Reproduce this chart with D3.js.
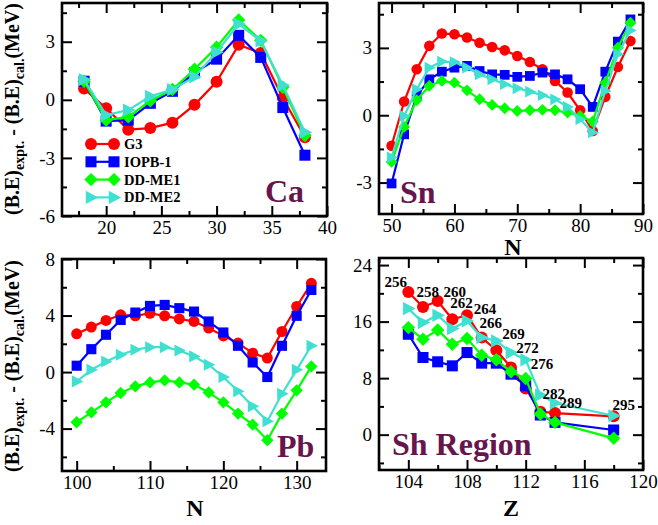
<!DOCTYPE html>
<html><head><meta charset="utf-8">
<script src="https://cdn.jsdelivr.net/npm/d3@7"></script>
<style>body{margin:0;background:#fff}svg{display:block}</style>
</head><body>
<script>
// Binding-energy differences (expt. - cal.) in MeV for four RMF parameter sets
const modelNames = ["G3", "IOPB-1", "DD-ME1", "DD-ME2"];

// Ca isotopes
const caN     = [18, 20, 22, 24, 26, 28, 30, 32, 34, 36, 38];
const caG3    = [0.58, -0.44, -1.54, -1.46, -1.18, -0.26, 0.93, 2.84, 2.42, 0.09, -1.93];
const caIOPB  = [0.96, -1.10, -1.05, -0.18, 0.44, 1.40, 2.10, 3.33, 2.19, -0.40, -2.86];
const caDDME1 = [0.96, -1.05, -0.88, -0.05, 0.53, 1.58, 2.72, 4.12, 3.07, 0.65, -1.84];
const caDDME2 = [1.05, -0.79, -0.53, 0.18, 0.53, 1.18, 2.46, 3.91, 3.04, 0.75, -1.67];

// Sn isotopes
const snN     = [50, 52, 54, 56, 58, 60, 62, 64, 66, 68, 70, 72, 74, 76, 78, 80, 82, 84, 86, 88];
const snG3    = [-1.36, 0.61, 2.05, 3.09, 3.64, 3.61, 3.46, 3.23, 3.04, 2.89, 2.64, 2.37, 2.05, 1.53, 1.01, 0.22, -0.70, 0.82, 2.15, 3.31];
const snIOPB  = [-3.04, -0.85, 0.86, 1.60, 1.94, 2.12, 2.20, 1.97, 1.82, 1.80, 1.71, 1.75, 1.90, 1.82, 1.60, 1.16, 0.37, 1.94, 3.28, 4.27];
const snDDME1 = [-2.08, -0.52, 0.67, 1.31, 1.53, 1.45, 1.11, 0.71, 0.46, 0.31, 0.19, 0.22, 0.24, 0.22, 0.12, -0.03, -0.28, 1.45, 3.01, 4.12];
const snDDME2 = [-1.88, -0.03, 1.16, 2.12, 2.39, 2.37, 2.12, 1.82, 1.60, 1.38, 1.20, 1.05, 0.89, 0.71, 0.37, -0.18, -0.77, 1.08, 2.72, 3.78];

// Pb isotopes
const pbN     = [100, 102, 104, 106, 108, 110, 112, 114, 116, 118, 120, 122, 124, 126, 128, 130, 132];
const pbG3    = [2.71, 3.18, 3.65, 4.05, 3.98, 4.16, 3.98, 3.76, 3.58, 3.11, 2.56, 2.05, 1.34, 0.99, 2.87, 4.64, 6.28];
const pbIOPB  = [0.45, 1.62, 2.64, 3.69, 4.21, 4.68, 4.75, 4.52, 4.28, 3.58, 2.80, 1.86, 0.68, -0.35, 1.86, 3.98, 5.81];
const pbDDME1 = [-3.55, -2.85, -2.14, -1.48, -1.01, -0.73, -0.59, -0.73, -0.89, -1.44, -2.14, -2.94, -3.72, -4.82, -2.94, -1.29, 0.40];
const pbDDME2 = [-0.66, 0.16, 0.75, 1.22, 1.58, 1.76, 1.76, 1.53, 1.11, 0.52, -0.35, -1.36, -2.42, -3.48, -1.53, 0.16, 1.86];

// Superheavy region (by proton number Z)
const shZ     = [104, 105, 106, 107, 108, 109, 110, 111, 112, 113, 114, 118];
const shG3    = [20.19, 18.07, 18.92, 16.33, 16.89, 13.74, 11.95, 9.51, 6.54, 3.25, 3.06, 2.59];
const shIOPB  = [14.21, 10.92, 10.31, 9.74, 11.62, 10.12, 10.12, 8.56, 6.92, 2.78, 1.74, 0.66];
const shDDME1 = [15.15, 13.51, 14.82, 12.80, 13.60, 11.25, 10.59, 8.89, 7.95, 2.92, 1.74, -0.52];
const shDDME2 = [17.84, 15.86, 16.89, 15.01, 16.09, 13.74, 13.27, 11.62, 10.59, 5.60, 4.47, 2.68];
// Mass numbers written beside the superheavy nuclei, and where they sit (Z, MeV)
const shMassLabels = ["256", "258", "260", "262", "264", "266", "269", "272", "276", "282", "289", "295"];
const shMassLabelZ = [103.15, 105.33, 107.16, 107.62, 109.22, 109.62, 111.17, 112.13, 113.12, 113.92, 115.07, 118.69];
const shMassLabelE = [21.6, 20.2, 20.2, 18.7, 17.75, 15.88, 14.22, 12.34, 9.99, 5.75, 4.58, 4.24];

const colors = ["#ff0000", "#0000ff", "#00ff00", "#40e0d0"];
const FONT = "Liberation Serif, Times New Roman, serif";

const W = 658, H = 525;
const svg = d3.select("body").append("svg").attr("width", W).attr("height", H)
  .attr("font-family", FONT);

// Marker shapes: circle, square, diamond, right-pointing triangle
function markerPath(kind, s) {
  if (kind === 0) return d3.symbol(d3.symbolCircle, Math.PI * s * s)();
  if (kind === 1) { const h = s * 0.92; return `M${-h},${-h}H${h}V${h}H${-h}Z`; }
  if (kind === 2) { const h = s * 1.12; return `M0,${-h}L${h},0L0,${h}L${-h},0Z`; }
  const h = s * 1.1; return `M${-h * 0.8},${-h}L${h * 1.1},0L${-h * 0.8},${h}Z`;
}

function minorValues(domain, step, majors) {
  const lo = Math.ceil(domain[0] / step - 1e-9) * step;
  return d3.range(lo, domain[1] + 1e-9, step)
    .filter(v => !majors.some(m => Math.abs(m - v) < 1e-9));
}

function drawPanel(p) {
  const g = svg.append("g");
  const x = d3.scaleLinear().domain(p.xDomain).range([p.left, p.right]);
  const y = d3.scaleLinear().domain(p.yDomain).range([p.bottom, p.top]);
  const fmt = d => String(d);
  const xMinor = minorValues(p.xDomain, p.xMinorStep, p.xTicks);
  const yMinor = minorValues(p.yDomain, p.yMinorStep, p.yTicks);

  const styleAxis = sel => {
    sel.attr("font-family", FONT).attr("font-size", 19);
    sel.select(".domain").remove();
    sel.selectAll(".tick line").attr("stroke", "#000").attr("stroke-width", 2);
    sel.selectAll(".tick text").attr("fill", "#000");
  };
  // major + minor ticks, pointing inward on all four sides
  g.append("g").attr("transform", `translate(0,${p.bottom})`)
    .call(d3.axisBottom(x).tickValues(p.xTicks).tickSize(-10).tickPadding(5).tickFormat(fmt)).call(styleAxis);
  g.append("g").attr("transform", `translate(0,${p.bottom})`)
    .call(d3.axisBottom(x).tickValues(xMinor).tickSize(-5).tickFormat("")).call(styleAxis);
  g.append("g").attr("transform", `translate(0,${p.top})`)
    .call(d3.axisTop(x).tickValues(p.xTicks).tickSize(-10).tickFormat("")).call(styleAxis);
  g.append("g").attr("transform", `translate(0,${p.top})`)
    .call(d3.axisTop(x).tickValues(xMinor).tickSize(-5).tickFormat("")).call(styleAxis);
  g.append("g").attr("transform", `translate(${p.left},0)`)
    .call(d3.axisLeft(y).tickValues(p.yTicks).tickSize(-10).tickPadding(7).tickFormat(fmt)).call(styleAxis);
  g.append("g").attr("transform", `translate(${p.left},0)`)
    .call(d3.axisLeft(y).tickValues(yMinor).tickSize(-5).tickFormat("")).call(styleAxis);
  g.append("g").attr("transform", `translate(${p.right},0)`)
    .call(d3.axisRight(y).tickValues(p.yTicks).tickSize(-10).tickFormat("")).call(styleAxis);
  g.append("g").attr("transform", `translate(${p.right},0)`)
    .call(d3.axisRight(y).tickValues(yMinor).tickSize(-5).tickFormat("")).call(styleAxis);

  g.append("rect").attr("x", p.left).attr("y", p.top)
    .attr("width", p.right - p.left).attr("height", p.bottom - p.top)
    .attr("fill", "none").attr("stroke", "#000").attr("stroke-width", 2.6);

  const line = d3.line().x(d => x(d[0])).y(d => y(d[1]));
  p.series.forEach((vals, k) => {
    const pts = p.xs.map((xv, i) => [xv, vals[i]]);
    const sg = g.append("g");
    sg.append("path").attr("d", line(pts)).attr("fill", "none")
      .attr("stroke", colors[k]).attr("stroke-width", 2.2);
    sg.selectAll("path.m").data(pts).join("path").attr("class", "m")
      .attr("transform", d => `translate(${x(d[0])},${y(d[1])})`)
      .attr("d", markerPath(k, p.marker)).attr("fill", colors[k]);
  });

  g.append("text").attr("x", p.tagX).attr("y", p.tagY).text(p.tag)
    .attr("font-size", 32).attr("font-weight", "bold").attr("fill", "#66164d");
  return {g, x, y};
}

// Ca
const ca = drawPanel({
  left: 62, right: 327, top: 3, bottom: 216,
  xDomain: [16, 40], yDomain: [-6, 5],
  xTicks: [20, 25, 30, 35, 40], xMinorStep: 2.5,
  yTicks: [-6, -3, 0, 3], yMinorStep: 1.5,
  xs: caN, series: [caG3, caIOPB, caDDME1, caDDME2], marker: 6,
  tag: "Ca", tagX: 265, tagY: 202
});
// legend
modelNames.forEach((name, k) => {
  const yy = 144 + k * 17.8;
  const lg = ca.g.append("g");
  lg.append("line").attr("x1", 89).attr("x2", 116).attr("y1", yy).attr("y2", yy)
    .attr("stroke", colors[k]).attr("stroke-width", 2.2);
  [91, 114].forEach(xx => lg.append("path").attr("transform", `translate(${xx},${yy})`)
    .attr("d", markerPath(k, 6)).attr("fill", colors[k]));
  lg.append("text").attr("x", 124).attr("y", yy + 5).text(name)
    .attr("font-size", 14.5).attr("font-weight", "bold").attr("fill", "#000");
});

// Sn
drawPanel({
  left: 379, right: 643, top: 3, bottom: 214,
  xDomain: [48, 90], yDomain: [-4.4, 5],
  xTicks: [50, 60, 70, 80, 90], xMinorStep: 5,
  yTicks: [-3, 0, 3], yMinorStep: 1.5,
  xs: snN, series: [snG3, snIOPB, snDDME1, snDDME2], marker: 5.3,
  tag: "Sn", tagX: 400, tagY: 203
});

// Pb
drawPanel({
  left: 62, right: 326, top: 259, bottom: 471,
  xDomain: [98, 134], yDomain: [-7, 8],
  xTicks: [100, 110, 120, 130], xMinorStep: 5,
  yTicks: [-4, 0, 4, 8], yMinorStep: 2,
  xs: pbN, series: [pbG3, pbIOPB, pbDDME1, pbDDME2], marker: 5.5,
  tag: "Pb", tagX: 277, tagY: 457
});

// Superheavy region
const sh = drawPanel({
  left: 379, right: 643, top: 258, bottom: 470,
  xDomain: [102, 120], yDomain: [-5, 25],
  xTicks: [104, 108, 112, 116, 120], xMinorStep: 2,
  yTicks: [0, 8, 16, 24], yMinorStep: 4,
  xs: shZ, series: [shG3, shIOPB, shDDME1, shDDME2], marker: 6,
  tag: "Sh Region", tagX: 392, tagY: 455
});
shMassLabels.forEach((t, i) => {
  sh.g.append("text").attr("x", sh.x(shMassLabelZ[i])).attr("y", sh.y(shMassLabelE[i]))
    .attr("dy", "0.35em").attr("text-anchor", "middle").text(t)
    .attr("font-size", 15).attr("font-weight", "bold").attr("fill", "#000");
});

// Axis titles
function axisTitle(xp, yp, t) {
  svg.append("text").attr("x", xp).attr("y", yp).attr("text-anchor", "middle").text(t)
    .attr("font-size", 24).attr("font-weight", "bold");
}
axisTitle(513, 255, "N");
axisTitle(195, 516, "N");
axisTitle(511, 516, "Z");

function yTitle(xp, yStart) {
  const t = svg.append("text").attr("transform", `translate(${xp},${yStart}) rotate(-90)`)
    .attr("font-size", 20).attr("font-weight", "bold");
  t.append("tspan").text("(B.E)");
  t.append("tspan").attr("dy", 5).attr("font-size", 14).text("expt.");
  t.append("tspan").attr("dy", -5).text(" - (B.E)");
  t.append("tspan").attr("dy", 5).attr("font-size", 14).text("cal.");
  t.append("tspan").attr("dy", -5).text("(MeV)");
}
yTitle(19, 215);
yTitle(19, 472);
</script>
</body></html>
